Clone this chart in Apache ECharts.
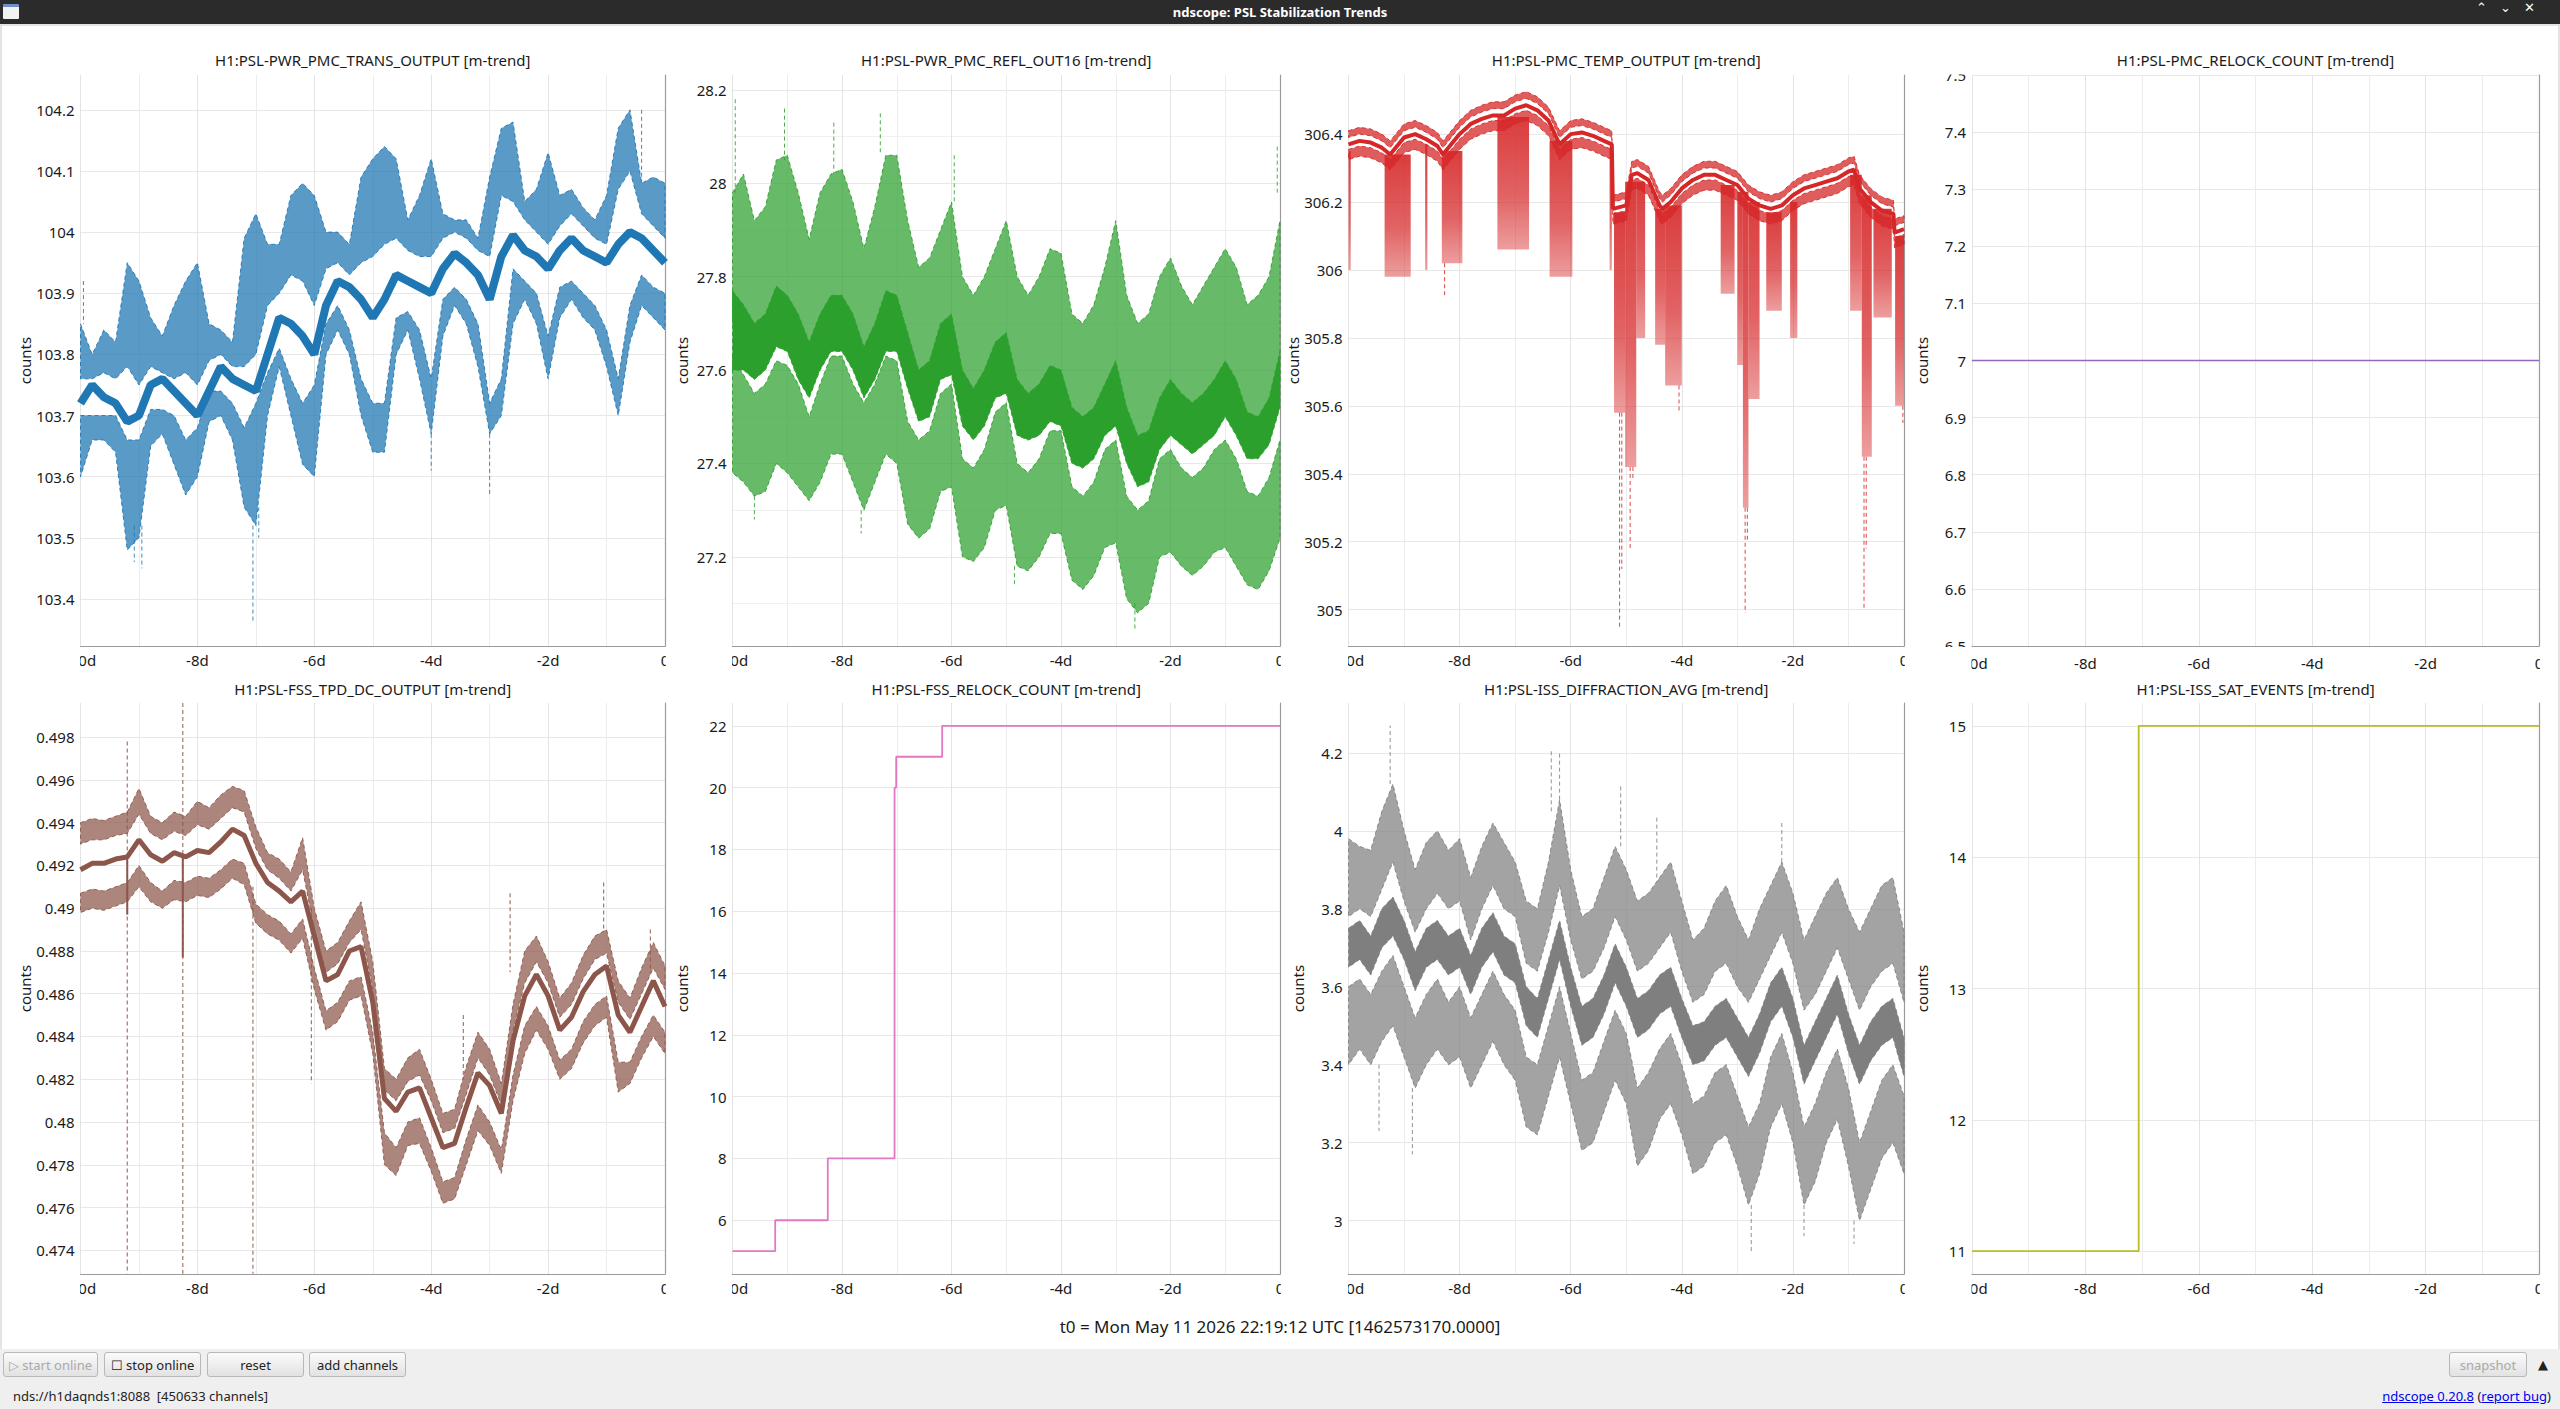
<!DOCTYPE html>
<html><head><meta charset="utf-8">
<script src="https://cdn.jsdelivr.net/npm/echarts@6/dist/echarts.min.js"></script>
<style>
html,body{margin:0;padding:0;width:2560px;height:1409px;overflow:hidden;background:#fff;font-family:"Noto Sans",sans-serif;}
#chart{position:absolute;left:0;top:0;width:2560px;height:1349px;}
#titlebar{position:absolute;left:0;top:0;width:2560px;height:24px;background:#2b2b2b;color:#fff;font:bold 13px "Noto Sans";line-height:24px;text-align:center;z-index:5;}
#titlebar .ic{position:absolute;left:3px;top:4px;width:16px;height:15px;background:#f2f2f2;border-top:3px solid #6f8fc8;box-sizing:border-box;border-radius:1px;}
#titlebar .wb{position:absolute;top:0;font:13px "DejaVu Sans";color:#fff;}
#edge{position:absolute;left:0;top:24px;width:2556px;height:1325px;border-left:2px solid #e4e4e4;border-right:2px solid #e4e4e4;border-top:2px solid #e4e4e4;z-index:4;pointer-events:none;}
#toolbar{position:absolute;left:0;top:1349px;width:2560px;height:60px;background:#efefef;z-index:5;font:13px "Noto Sans";color:#222;}
.btn{position:absolute;top:3px;height:25px;border:1px solid #b8b8b8;border-radius:3px;background:linear-gradient(#fafafa,#e2e2e2);display:flex;align-items:center;justify-content:center;box-sizing:border-box;font:13px "Noto Sans";color:#222;}
.dis{color:#a9a9a9;}
#status{position:absolute;left:13px;top:38px;font:13px "Noto Sans";color:#222;}
#links{position:absolute;right:9px;top:38px;font:13px "Noto Sans";color:#222;}
#links a{color:#0000ee;text-decoration:underline;}
</style></head>
<body>
<div id="chart"></div>
<div id="titlebar"><div class="ic"></div>ndscope: PSL Stabilization Trends
<span class="wb" style="left:2476px">&#8963;</span><span class="wb" style="left:2500px">&#8964;</span><span class="wb" style="left:2524px">&#10005;</span></div>
<div id="edge"></div>
<div id="toolbar">
<div class="btn dis" style="left:3px;width:95px">&#9655; start online</div>
<div class="btn" style="left:104px;width:97px">&#9744; stop online</div>
<div class="btn" style="left:207px;width:97px">reset</div>
<div class="btn" style="left:309px;width:97px">add channels</div>
<div class="btn dis" style="left:2449px;width:78px">snapshot</div>
<div style="position:absolute;left:2538px;top:8px;font:13px 'DejaVu Sans';color:#222">&#9650;</div>
<div id="status">nds://h1daqnds1:8088&nbsp;&nbsp;[450633 channels]</div>
<div id="links"><a>ndscope 0.20.8</a> (<a>report bug</a>)</div>
</div>
<script>
// ---------------- DATA ----------------
const days = [-10,-9.8,-9.6,-9.4,-9.2,-9,-8.8,-8.6,-8.4,-8.2,-8,-7.8,-7.6,-7.4,-7.2,-7,-6.8,-6.6,-6.4,-6.2,-6,-5.8,-5.6,-5.4,-5.2,-5,-4.8,-4.6,-4.4,-4.2,-4,-3.8,-3.6,-3.4,-3.2,-3,-2.8,-2.6,-2.4,-2.2,-2,-1.8,-1.6,-1.4,-1.2,-1,-0.8,-0.6,-0.4,-0.2,0];
const xTickValues = [-10,-8,-6,-4,-2,0];
const xTickLabels = ['-10d','-8d','-6d','-4d','-2d','0'];
const t0Label = 't0 = Mon May 11 2026 22:19:12 UTC [1462573170.0000]';

// Panel 1: H1:PSL-PWR_PMC_TRANS_OUTPUT
const p1MaxHi = [103.85,103.80,103.84,103.82,103.95,103.92,103.86,103.83,103.88,103.92,103.95,103.85,103.84,103.82,103.99,104.03,103.98,103.98,104.06,104.08,104.06,104.00,104.00,103.98,104.09,104.12,104.14,104.12,104.02,104.06,104.12,104.03,104.02,104.02,103.99,104.09,104.17,104.18,104.05,104.07,104.13,104.06,104.07,104.04,104.02,104.06,104.17,104.20,104.08,104.09,104.08];
const p1MaxLo = [103.76,103.76,103.77,103.76,103.78,103.75,103.78,103.77,103.76,103.77,103.75,103.79,103.80,103.78,103.78,103.80,103.88,103.90,103.93,103.92,103.88,103.94,103.95,103.93,103.95,103.96,103.98,103.99,103.97,103.96,103.96,103.99,104.00,103.99,103.97,103.96,104.06,104.05,104.02,104.00,103.98,104.01,104.03,104.01,103.99,103.98,104.07,104.10,104.03,104.01,103.99];
const p1Mean  = [103.72,103.75,103.73,103.72,103.69,103.70,103.75,103.76,103.74,103.72,103.70,103.74,103.78,103.76,103.75,103.74,103.80,103.86,103.85,103.83,103.80,103.88,103.92,103.91,103.89,103.86,103.89,103.93,103.92,103.91,103.90,103.94,103.965,103.95,103.93,103.89,103.96,103.995,103.97,103.96,103.94,103.97,103.99,103.97,103.96,103.95,103.98,104.00,103.99,103.97,103.95];
const p1MinHi = [103.70,103.70,103.70,103.70,103.66,103.66,103.71,103.71,103.70,103.66,103.68,103.74,103.74,103.72,103.68,103.72,103.77,103.81,103.76,103.72,103.75,103.85,103.88,103.84,103.76,103.72,103.72,103.86,103.87,103.84,103.76,103.89,103.91,103.89,103.85,103.72,103.76,103.94,103.92,103.90,103.83,103.91,103.92,103.90,103.88,103.84,103.76,103.88,103.93,103.91,103.90];
const p1MinLo = [103.60,103.66,103.66,103.64,103.48,103.50,103.65,103.67,103.62,103.57,103.60,103.69,103.70,103.66,103.55,103.52,103.70,103.78,103.70,103.62,103.60,103.80,103.84,103.80,103.70,103.64,103.64,103.80,103.84,103.76,103.67,103.83,103.88,103.85,103.78,103.67,103.70,103.85,103.89,103.85,103.76,103.86,103.89,103.86,103.84,103.78,103.70,103.82,103.88,103.86,103.84];
const p1SpikeX   = [-9.08,-8.95,-7.05,-6.95,-3.0,-4.0,-9.95,-0.4];
const p1SpikeTop = [103.52,103.52,103.52,103.55,103.67,103.67,103.92,104.20];
const p1SpikeBot = [103.46,103.45,103.36,103.50,103.57,103.61,103.85,104.08];

// Panel 2: H1:PSL-PWR_PMC_REFL_OUT16
const p2MaxHi  = [27.98,28.02,27.92,27.95,28.05,28.06,27.98,27.88,27.98,28.02,28.03,27.96,27.86,27.95,28.06,28.06,27.92,27.82,27.84,27.90,27.96,27.80,27.76,27.80,27.86,27.92,27.80,27.76,27.80,27.86,27.85,27.72,27.70,27.74,27.82,27.92,27.76,27.70,27.72,27.80,27.84,27.78,27.74,27.78,27.82,27.86,27.82,27.74,27.76,27.80,27.92];
const p2MaxLo  = [27.70,27.72,27.66,27.68,27.74,27.74,27.68,27.62,27.70,27.74,27.72,27.66,27.60,27.66,27.74,27.74,27.64,27.56,27.56,27.62,27.66,27.52,27.48,27.52,27.58,27.62,27.52,27.49,27.52,27.58,27.56,27.46,27.44,27.48,27.54,27.60,27.48,27.44,27.46,27.52,27.56,27.50,27.48,27.50,27.54,27.56,27.52,27.46,27.48,27.52,27.58];
const p2MeanHi = [27.77,27.74,27.70,27.72,27.78,27.76,27.72,27.66,27.72,27.76,27.76,27.72,27.65,27.70,27.77,27.76,27.68,27.60,27.62,27.70,27.72,27.60,27.56,27.60,27.66,27.68,27.58,27.55,27.57,27.61,27.60,27.52,27.50,27.52,27.57,27.62,27.52,27.46,27.47,27.54,27.58,27.55,27.53,27.55,27.58,27.62,27.58,27.51,27.50,27.54,27.64];
const p2MeanLo = [27.60,27.60,27.58,27.60,27.65,27.64,27.58,27.54,27.60,27.64,27.64,27.60,27.54,27.58,27.64,27.64,27.56,27.49,27.50,27.58,27.59,27.48,27.45,27.48,27.54,27.55,27.46,27.45,27.46,27.49,27.48,27.40,27.39,27.41,27.46,27.48,27.40,27.35,27.36,27.43,27.46,27.44,27.42,27.44,27.46,27.50,27.46,27.41,27.41,27.44,27.52];
const p2MinHi  = [27.63,27.59,27.55,27.57,27.62,27.61,27.57,27.50,27.57,27.63,27.63,27.57,27.53,27.57,27.63,27.62,27.49,27.45,27.47,27.55,27.57,27.41,27.39,27.43,27.51,27.53,27.40,27.38,27.41,27.47,27.47,27.35,27.33,27.36,27.43,27.45,27.33,27.30,27.32,27.41,27.43,27.39,27.37,27.39,27.43,27.45,27.41,27.34,27.33,27.37,27.45];
const p2MinLo  = [27.38,27.36,27.33,27.34,27.40,27.38,27.35,27.32,27.36,27.42,27.42,27.36,27.30,27.36,27.42,27.40,27.27,27.24,27.26,27.34,27.35,27.20,27.19,27.22,27.30,27.31,27.18,27.17,27.20,27.25,27.25,27.15,27.13,27.16,27.22,27.23,27.11,27.08,27.10,27.20,27.21,27.18,27.16,27.18,27.21,27.22,27.18,27.14,27.13,27.17,27.24];
const p2SpikeX   = [-9.95,-9.05,-8.15,-7.3,-5.95,-9.6,-7.65,-2.65,-4.85,-0.05];
const p2SpikeTop = [28.18,28.16,28.13,28.15,28.06,27.33,27.30,27.10,27.18,27.98];
const p2SpikeBot = [27.98,28.05,28.02,28.06,27.96,27.28,27.25,27.04,27.14,28.08];

// Panel 3: H1:PSL-PMC_TEMP_OUTPUT
const p3X     = [-10,-9.8,-9.6,-9.4,-9.25,-9,-8.8,-8.6,-8.4,-8.3,-8,-7.8,-7.6,-7.4,-7.2,-7,-6.8,-6.6,-6.4,-6.2,-6,-5.8,-5.6,-5.4,-5.26,-5.24,-5,-4.9,-4.8,-4.6,-4.4,-4.35,-4.2,-4,-3.8,-3.6,-3.4,-3.2,-3,-2.8,-2.6,-2.4,-2.2,-2,-1.8,-1.6,-1.4,-1.2,-1,-0.9,-0.8,-0.6,-0.4,-0.19,-0.17,0];
const p3MaxHi = [306.41,306.42,306.415,306.40,306.38,306.43,306.44,306.425,306.405,306.38,306.44,306.47,306.485,306.495,306.495,306.515,306.525,306.51,306.48,306.41,306.44,306.445,306.435,306.42,306.41,306.22,306.23,306.32,306.325,306.305,306.23,306.22,306.24,306.28,306.305,306.32,306.32,306.305,306.29,306.25,306.23,306.22,306.23,306.26,306.28,306.29,306.30,306.31,306.33,306.335,306.28,306.24,306.215,306.205,306.15,306.16];
const p3MaxLo = [306.39,306.40,306.395,306.38,306.36,306.41,306.42,306.405,306.385,306.36,306.42,306.45,306.465,306.475,306.475,306.495,306.505,306.49,306.46,306.39,306.42,306.425,306.415,306.40,306.39,306.20,306.21,306.30,306.305,306.285,306.21,306.20,306.22,306.26,306.285,306.30,306.30,306.285,306.27,306.23,306.21,306.20,306.21,306.24,306.26,306.27,306.28,306.29,306.31,306.315,306.26,306.22,306.195,306.185,306.13,306.14];
const p3Mean  = [306.37,306.38,306.375,306.36,306.34,306.39,306.40,306.385,306.365,306.34,306.40,306.43,306.445,306.455,306.455,306.475,306.485,306.47,306.44,306.37,306.40,306.405,306.395,306.38,306.37,306.18,306.19,306.28,306.285,306.265,306.19,306.18,306.20,306.24,306.265,306.28,306.28,306.265,306.25,306.21,306.19,306.18,306.19,306.22,306.24,306.25,306.26,306.27,306.29,306.295,306.24,306.20,306.175,306.165,306.11,306.12];
const p3MinHi = [306.355,306.365,306.36,306.345,306.325,306.375,306.385,306.37,306.35,306.325,306.385,306.415,306.43,306.44,306.44,306.46,306.47,306.455,306.425,306.355,306.385,306.39,306.38,306.365,306.355,306.165,306.175,306.265,306.27,306.25,306.175,306.165,306.185,306.225,306.25,306.265,306.265,306.25,306.235,306.195,306.175,306.165,306.175,306.205,306.225,306.235,306.245,306.255,306.275,306.28,306.225,306.185,306.16,306.15,306.095,306.105];
const p3MinLo = [306.325,306.335,306.33,306.315,306.295,306.345,306.355,306.34,306.32,306.295,306.355,306.385,306.40,306.41,306.41,306.43,306.44,306.425,306.395,306.325,306.355,306.36,306.35,306.335,306.325,306.135,306.145,306.235,306.24,306.22,306.145,306.135,306.155,306.195,306.22,306.235,306.235,306.22,306.205,306.165,306.145,306.135,306.145,306.175,306.195,306.205,306.215,306.225,306.245,306.25,306.195,306.155,306.13,306.12,306.065,306.075];
const p3DropStart = [-10.0,-9.35,-8.62,-8.32,-7.32,-6.38,-5.30,-5.22,-5.02,-4.82,-4.48,-4.30,-3.30,-3.00,-2.90,-2.80,-2.48,-2.05,-0.97,-0.76,-0.55,-0.16];
const p3DropEnd   = [-9.96,-8.88,-8.58,-7.95,-6.75,-5.97,-5.26,-5.02,-4.82,-4.66,-4.30,-4.00,-3.05,-2.90,-2.80,-2.60,-2.20,-1.92,-0.76,-0.58,-0.22,0.0];
const p3DropTop   = [306.35,306.34,306.37,306.35,306.45,306.38,306.36,306.17,306.26,306.26,306.18,306.19,306.25,306.23,306.23,306.20,306.17,306.20,306.28,306.22,306.18,306.10];
const p3DropBot   = [306.00,305.98,306.00,306.02,306.06,305.98,306.00,305.58,305.42,305.80,305.78,305.66,305.93,305.72,305.30,305.62,305.88,305.80,305.88,305.45,305.86,305.60];
const p3SpikeX   = [-5.12,-5.08,-4.93,-4.88,-2.86,-2.82,-0.72,-0.68,-8.27,-4.05,-0.02];
const p3SpikeTop = [305.58,305.58,305.42,305.42,305.30,305.30,305.45,305.45,306.02,305.66,305.60];
const p3SpikeBot = [304.95,305.12,305.18,305.38,304.99,305.20,305.00,305.18,305.92,305.58,305.55];

// Panel 4: H1:PSL-PMC_RELOCK_COUNT
const p4StepX = [-10,0];
const p4Counts = [7,7];

// Panel 5: H1:PSL-FSS_TPD_DC_OUTPUT
const p5MaxHi = [0.4940,0.4942,0.4941,0.4943,0.4945,0.4956,0.4943,0.4940,0.4945,0.4943,0.4950,0.4947,0.4953,0.4957,0.4955,0.4938,0.4926,0.4923,0.4917,0.4933,0.4900,0.4880,0.4884,0.4894,0.4903,0.4875,0.4825,0.4820,0.4830,0.4834,0.4820,0.4804,0.4806,0.4826,0.4842,0.4834,0.4818,0.4855,0.4880,0.4887,0.4875,0.4858,0.4865,0.4878,0.4887,0.4890,0.4866,0.4858,0.4872,0.4884,0.4873];
const p5MaxLo = [0.4930,0.4932,0.4932,0.4934,0.4935,0.4944,0.4935,0.4932,0.4936,0.4934,0.4939,0.4937,0.4942,0.4947,0.4945,0.4928,0.4918,0.4914,0.4908,0.4918,0.4890,0.4870,0.4874,0.4884,0.4890,0.4862,0.4815,0.4810,0.4819,0.4822,0.4810,0.4795,0.4797,0.4813,0.4830,0.4822,0.4808,0.4843,0.4865,0.4875,0.4865,0.4849,0.4855,0.4867,0.4876,0.4879,0.4856,0.4848,0.4860,0.4872,0.4862];
const p5Mean  = [0.4918,0.4921,0.4921,0.4923,0.4924,0.4932,0.4925,0.4922,0.4926,0.4924,0.4927,0.4926,0.4931,0.4937,0.4934,0.4921,0.4912,0.4908,0.4903,0.4908,0.4887,0.4866,0.4869,0.4880,0.4882,0.4856,0.4811,0.4805,0.4814,0.4816,0.4802,0.4788,0.4790,0.4807,0.4823,0.4817,0.4804,0.4838,0.4859,0.4869,0.4859,0.4843,0.4849,0.4861,0.4869,0.4873,0.4850,0.4842,0.4854,0.4866,0.4854];
const p5MinHi = [0.4907,0.4909,0.4908,0.4910,0.4912,0.4920,0.4912,0.4908,0.4913,0.4912,0.4915,0.4914,0.4918,0.4923,0.4921,0.4902,0.4897,0.4894,0.4888,0.4895,0.4872,0.4852,0.4856,0.4866,0.4868,0.4842,0.4795,0.4788,0.4800,0.4802,0.4788,0.4772,0.4774,0.4792,0.4808,0.4800,0.4787,0.4822,0.4845,0.4854,0.4845,0.4829,0.4834,0.4847,0.4855,0.4859,0.4828,0.4828,0.4840,0.4850,0.4842];
const p5MinLo = [0.4898,0.4900,0.4899,0.4901,0.4903,0.4910,0.4903,0.4900,0.4904,0.4903,0.4906,0.4905,0.4909,0.4914,0.4911,0.4893,0.4888,0.4885,0.4879,0.4886,0.4862,0.4843,0.4847,0.4857,0.4859,0.4832,0.4780,0.4775,0.4789,0.4790,0.4777,0.4762,0.4764,0.4780,0.4796,0.4789,0.4776,0.4810,0.4832,0.4843,0.4834,0.4820,0.4825,0.4837,0.4845,0.4849,0.4814,0.4818,0.4830,0.4840,0.4832];
const p5SpikeX   = [-9.2,-8.25,-7.05,-6.05,-2.65,-1.05,-3.45,-0.25];
const p5SpikeTop = [0.4978,0.4996,0.4910,0.4900,0.4907,0.4912,0.4850,0.4890];
const p5SpikeBot = [0.4729,0.4729,0.4729,0.4818,0.4870,0.4890,0.4820,0.4870];
const p5MeanSpikeX   = [-9.2,-8.25];
const p5MeanSpikeTop = [0.4924,0.4925];
const p5MeanSpikeBot = [0.4897,0.4877];

// Panel 6: H1:PSL-FSS_RELOCK_COUNT
const p6StepX = [-10,-9.22,-8.26,-7.04,-7.01,-6.17,0];
const p6Counts = [5,6,8,20,21,22,22];

// Panel 7: H1:PSL-ISS_DIFFRACTION_AVG
const p7MaxHi  = [3.98,3.96,3.95,4.05,4.12,4.00,3.90,3.97,4.00,3.95,3.98,3.88,3.96,4.02,3.97,3.92,3.82,3.80,3.92,4.08,3.90,3.78,3.80,3.88,3.96,3.90,3.82,3.84,3.88,3.92,3.82,3.72,3.75,3.82,3.86,3.78,3.72,3.80,3.86,3.92,3.84,3.72,3.78,3.84,3.88,3.80,3.74,3.80,3.86,3.88,3.74];
const p7MaxLo  = [3.78,3.80,3.78,3.85,3.92,3.82,3.74,3.80,3.84,3.80,3.82,3.72,3.80,3.86,3.80,3.78,3.66,3.64,3.74,3.86,3.72,3.62,3.64,3.70,3.78,3.72,3.64,3.66,3.70,3.74,3.64,3.56,3.58,3.64,3.66,3.60,3.56,3.62,3.68,3.74,3.66,3.54,3.58,3.64,3.70,3.62,3.54,3.60,3.64,3.66,3.56];
const p7MeanHi = [3.75,3.77,3.73,3.80,3.83,3.77,3.69,3.75,3.77,3.73,3.75,3.68,3.75,3.79,3.73,3.71,3.60,3.57,3.67,3.77,3.65,3.55,3.57,3.63,3.71,3.65,3.57,3.59,3.63,3.65,3.57,3.50,3.51,3.55,3.57,3.52,3.47,3.53,3.61,3.65,3.57,3.45,3.51,3.57,3.63,3.53,3.45,3.51,3.55,3.57,3.47];
const p7MeanLo = [3.65,3.67,3.63,3.70,3.73,3.67,3.59,3.65,3.67,3.63,3.65,3.58,3.65,3.69,3.63,3.61,3.50,3.47,3.57,3.67,3.55,3.45,3.47,3.53,3.61,3.55,3.47,3.49,3.53,3.55,3.47,3.40,3.41,3.45,3.47,3.42,3.37,3.43,3.51,3.55,3.47,3.35,3.41,3.47,3.53,3.43,3.35,3.41,3.45,3.47,3.37];
const p7MinHi  = [3.60,3.62,3.58,3.64,3.68,3.60,3.52,3.58,3.62,3.56,3.60,3.52,3.58,3.64,3.58,3.54,3.42,3.40,3.50,3.60,3.48,3.36,3.38,3.46,3.54,3.48,3.34,3.38,3.44,3.48,3.40,3.30,3.32,3.38,3.40,3.32,3.24,3.30,3.42,3.48,3.38,3.24,3.30,3.38,3.44,3.34,3.20,3.28,3.36,3.40,3.32];
const p7MinLo  = [3.40,3.44,3.40,3.46,3.50,3.42,3.34,3.40,3.44,3.40,3.42,3.34,3.40,3.46,3.40,3.36,3.24,3.22,3.32,3.42,3.30,3.18,3.20,3.28,3.36,3.30,3.14,3.18,3.26,3.30,3.22,3.12,3.14,3.20,3.22,3.14,3.04,3.12,3.24,3.30,3.20,3.04,3.10,3.20,3.26,3.14,3.00,3.08,3.16,3.20,3.12];
const p7SpikeX   = [-9.25,-6.35,-6.2,-5.1,-9.45,-8.85,-2.75,-0.9,-1.8,-4.45,-2.2];
const p7SpikeTop = [4.12,4.05,4.08,3.96,3.40,3.34,3.04,3.00,3.04,3.88,3.92];
const p7SpikeBot = [4.27,4.21,4.20,4.12,3.23,3.17,2.92,2.94,2.96,4.04,4.02];

// Panel 8: H1:PSL-ISS_SAT_EVENTS
const p8StepX = [-10,-7.06,0];
const p8Counts = [11,15,15];

// ---------------- LAYOUT / STYLE ----------------
const FONT = '"Noto Sans", "DejaVu Sans", sans-serif';
const rowTop = [75, 703], rowH = 571, titleY = [60, 689];
const cols = [[80.5,665],[732.5,1280],[1348.5,1904],[1972,2539]];
const panels = [
 {title:'H1:PSL-PWR_PMC_TRANS_OUTPUT [m-trend]', row:0,col:0, yMin:103.323, yMax:104.257, split:9},
 {title:'H1:PSL-PWR_PMC_REFL_OUT16 [m-trend]',   row:0,col:1, yMin:27.009,  yMax:28.232,  split:6, minor:true},
 {title:'H1:PSL-PMC_TEMP_OUTPUT [m-trend]',      row:0,col:2, yMin:304.893, yMax:306.574, split:8},
 {title:'H1:PSL-PMC_RELOCK_COUNT [m-trend]',     row:0,col:3, yMin:6.5,     yMax:7.5,     interval:0.1, exact:true},
 {title:'H1:PSL-FSS_TPD_DC_OUTPUT [m-trend]',    row:1,col:0, yMin:0.47289, yMax:0.4996,  split:13},
 {title:'H1:PSL-FSS_RELOCK_COUNT [m-trend]',     row:1,col:1, yMin:4.26,    yMax:22.74,   split:9},
 {title:'H1:PSL-ISS_DIFFRACTION_AVG [m-trend]',  row:1,col:2, yMin:2.863,   yMax:4.328,   split:7},
 {title:'H1:PSL-ISS_SAT_EVENTS [m-trend]',       row:1,col:3, yMin:10.826,  yMax:15.174,  split:4}
];
const C = {blue:'31,119,180', green:'44,160,44', red:'214,39,40', purple:'148,103,189', brown:'140,86,75', pink:'227,119,194', gray:'127,127,127', olive:'188,189,34'};
const rgba = (c,a) => 'rgba(' + c + ',' + a + ')';

const grid=[], xAxis=[], yAxis=[], series=[], graphic=[];
panels.forEach((p,i) => {
  const L = cols[p.col][0], R = cols[p.col][1], T = rowTop[p.row], B = T + rowH;
  grid.push({left:L, top:T, width:R-L, height:rowH, containLabel:false});
  xAxis.push({gridIndex:i, type:'value', min:-10, max:0, interval:2,
    axisLine:{show:true, onZero:false, lineStyle:{color:'#9a9a9a', width:1.2}},
    axisTick:{show:false},
    axisLabel:{color:'#1a1a1a', fontSize:15, fontFamily:FONT, margin: p.exact ? 9 : 6,
      formatter: v => { const k = xTickValues.indexOf(Math.round(v)); return k >= 0 ? xTickLabels[k] : ''; }},
    splitLine:{show:true, lineStyle:{color:'#e3e3e3', width:1}},
    minorTick:{show:false, splitNumber:2},
    minorSplitLine:{show:true, lineStyle:{color:'#ececec', width:1}}
  });
  const ya = {gridIndex:i, type:'value', min:p.yMin, max:p.yMax,
    axisLine:{show:true, lineStyle:{color:'#9a9a9a', width:1.2}},
    axisTick:{show:false},
    axisLabel:{color:'#1a1a1a', fontSize:15, fontFamily:FONT, margin:6,
      showMinLabel: !!p.exact, showMaxLabel: !!p.exact},
    splitLine:{show:true, showMinLine:false, showMaxLine: !!p.exact, lineStyle:{color:'#e8e8e8', width:1}},
    minorTick:{show:false, splitNumber:2},
    minorSplitLine:{show:!!p.minor, lineStyle:{color:'#f0f0f0', width:1}},
    name:'counts', nameLocation:'middle', nameGap:43, nameRotate:90,
    nameTextStyle:{color:'#1a1a1a', fontSize:15, fontFamily:FONT}
  };
  if (p.interval) ya.interval = p.interval; else ya.splitNumber = p.split;
  yAxis.push(ya);
  graphic.push({type:'text', x:(L+R)/2, y:titleY[p.row], z:100, silent:true,
    style:{text:p.title, font:'15px ' + FONT, fill:'#1a1a1a', textAlign:'center', textVerticalAlign:'middle'}});
  // masks that clip edge tick labels to the plot extent (as the original viewer does)
  const mask = (x,y,w,h) => graphic.push({type:'rect', z:100, silent:true, shape:{x:x,y:y,width:w,height:h}, style:{fill:'#ffffff'}});
  mask(L-45, B+2.5, 44.5, 28);
  mask(R+0.8, B+2.5, 30, 28);
  mask(L-60, T-14, 59, 13.5);
  mask(L-60, B+1, 59, 13);
});
graphic.push({type:'text', x:1280, y:1326, z:100, silent:true,
  style:{text:t0Label, font:'17px ' + FONT, fill:'#1a1a1a', textAlign:'center', textVerticalAlign:'middle'}});

// ---------------- SERIES BUILDERS ----------------
function band(idx, xs, lo, hi, col, alpha, z) {
  return {type:'custom', xAxisIndex:idx, yAxisIndex:idx, z:z, silent:true, clip:true,
    data: xs.map((x,k) => [x, lo[k], hi[k]]), encode:{x:0, y:[1,2]},
    renderItem: (params, api) => {
      if (params.dataIndex !== 0) return null;
      const pts = [];
      for (let k = 0; k < xs.length; k++) pts.push(api.coord([xs[k], hi[k]]));
      for (let k = xs.length - 1; k >= 0; k--) pts.push(api.coord([xs[k], lo[k]]));
      return {type:'polygon', shape:{points:pts},
        style:{fill:rgba(col,alpha), stroke:rgba(col,0.9), lineWidth:1, lineDash:[4,3]}};
    }};
}
function meanLine(idx, xs, ys, col, w) {
  return {type:'line', xAxisIndex:idx, yAxisIndex:idx, z:4, silent:true, showSymbol:false, symbol:'none',
    data: xs.map((x,k) => [x, ys[k]]), lineStyle:{color:rgba(col,1), width:w}, clip:true};
}
function steps(idx, xs, ys, col, w) {
  return {type:'line', xAxisIndex:idx, yAxisIndex:idx, z:4, silent:true, showSymbol:false, symbol:'none', step:'end',
    data: xs.map((x,k) => [x, ys[k]]), lineStyle:{color:rgba(col,1), width:w}, clip:true};
}
function spikes(idx, xs, tops, bots, col, alpha, dashed, w) {
  return {type:'custom', xAxisIndex:idx, yAxisIndex:idx, z:3, silent:true, clip:true,
    data: xs.map((x,k) => [x, tops[k], bots[k]]), encode:{x:0, y:[1,2]},
    renderItem: (params, api) => {
      const a = api.coord([api.value(0), api.value(1)]);
      const b = api.coord([api.value(0), api.value(2)]);
      return {type:'line', shape:{x1:a[0], y1:a[1], x2:b[0], y2:b[1]},
        style:{stroke:rgba(col,alpha), lineWidth:w, lineDash: dashed ? [4,3] : null}};
    }};
}
function drops(idx, x0, x1, tops, bots, col) {
  return {type:'custom', xAxisIndex:idx, yAxisIndex:idx, z:2, silent:true, clip:true,
    data: x0.map((x,k) => [x, x1[k], tops[k], bots[k]]), encode:{x:[0,1], y:[2,3]},
    renderItem: (params, api) => {
      const a = api.coord([api.value(0), api.value(2)]);
      const b = api.coord([api.value(1), api.value(3)]);
      return {type:'rect', shape:{x:a[0], y:a[1], width:b[0]-a[0], height:b[1]-a[1]},
        style:{fill:new echarts.graphic.LinearGradient(0,0,0,1,[
          {offset:0, color:rgba(col,0.9)}, {offset:0.6, color:rgba(col,0.72)}, {offset:1, color:rgba(col,0.45)}])}};
    }};
}

// Panel 1
series.push(band(0, days, p1MaxLo, p1MaxHi, C.blue, 0.74, 2));
series.push(band(0, days, p1MinLo, p1MinHi, C.blue, 0.74, 2));
series.push(spikes(0, p1SpikeX, p1SpikeTop, p1SpikeBot, C.blue, 0.85, true, 1));
series.push(meanLine(0, days, p1Mean, C.blue, 8));
// Panel 2
series.push(band(1, days, p2MaxLo, p2MaxHi, C.green, 0.72, 2));
series.push(band(1, days, p2MinLo, p2MinHi, C.green, 0.72, 2));
series.push(spikes(1, p2SpikeX, p2SpikeTop, p2SpikeBot, C.green, 0.85, true, 1));
series.push(band(1, days, p2MeanLo, p2MeanHi, C.green, 1, 3));
// Panel 3
series.push(drops(2, p3DropStart, p3DropEnd, p3DropTop, p3DropBot, C.red));
series.push(spikes(2, p3SpikeX, p3SpikeTop, p3SpikeBot, C.red, 0.85, true, 1));
series.push(band(2, p3X, p3MinLo, p3MinHi, C.red, 0.75, 3));
series.push(band(2, p3X, p3MaxLo, p3MaxHi, C.red, 0.75, 3));
series.push(meanLine(2, p3X, p3Mean, C.red, 4));
// Panel 4
series.push(steps(3, p4StepX, p4Counts, C.purple, 1.5));
// Panel 5
series.push(spikes(4, p5SpikeX, p5SpikeTop, p5SpikeBot, C.brown, 0.8, true, 1.2));
series.push(band(4, days, p5MaxLo, p5MaxHi, C.brown, 0.72, 2));
series.push(band(4, days, p5MinLo, p5MinHi, C.brown, 0.72, 2));
series.push(spikes(4, p5MeanSpikeX, p5MeanSpikeTop, p5MeanSpikeBot, C.brown, 1, false, 2));
series.push(meanLine(4, days, p5Mean, C.brown, 5));
// Panel 6
series.push(steps(5, p6StepX, p6Counts, C.pink, 1.8));
// Panel 7
series.push(band(6, days, p7MaxLo, p7MaxHi, C.gray, 0.72, 2));
series.push(band(6, days, p7MinLo, p7MinHi, C.gray, 0.72, 2));
series.push(spikes(6, p7SpikeX, p7SpikeTop, p7SpikeBot, C.gray, 0.85, true, 1));
series.push(band(6, days, p7MeanLo, p7MeanHi, C.gray, 1, 3));
// Panel 8
series.push(steps(7, p8StepX, p8Counts, C.olive, 1.8));

const chart = echarts.init(document.getElementById('chart'), null, {renderer:'svg', width:2560, height:1349});
chart.setOption({animation:false, backgroundColor:'#ffffff', grid, xAxis, yAxis, series, graphic});
</script>
</body></html>
